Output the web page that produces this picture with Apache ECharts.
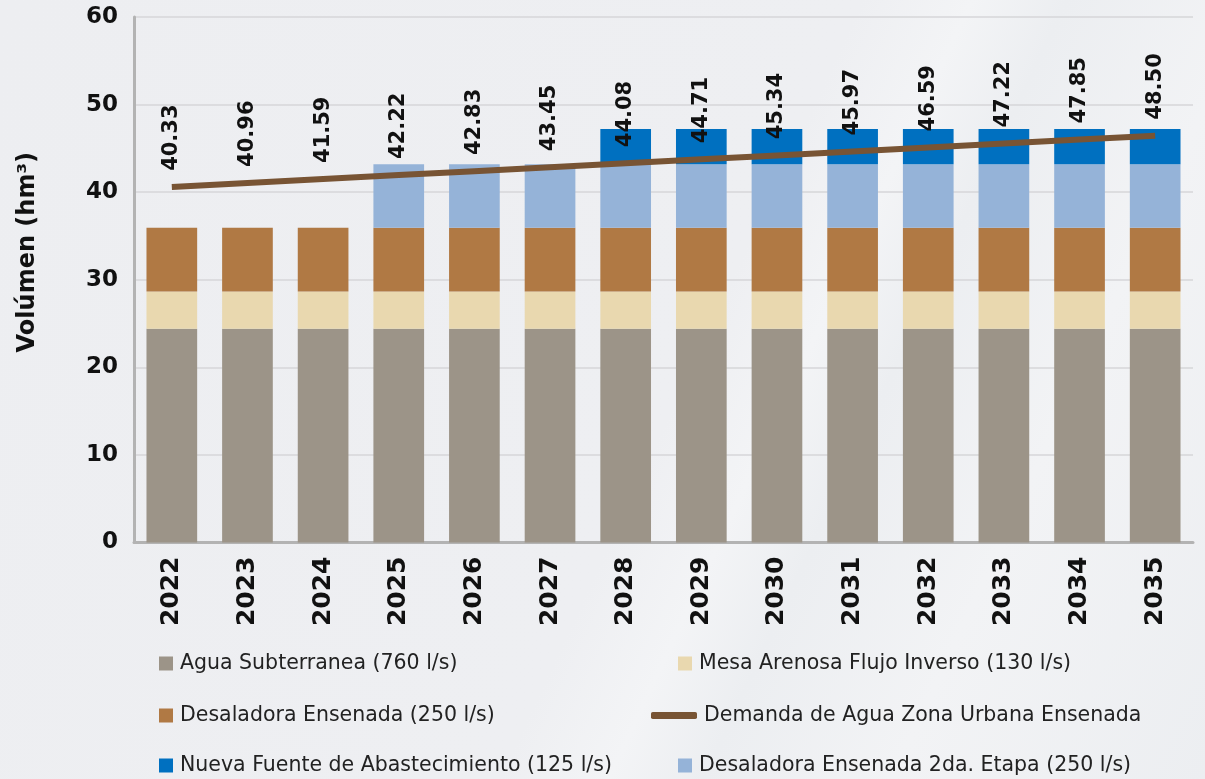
<!DOCTYPE html>
<html><head><meta charset="utf-8">
<script src="https://cdn.jsdelivr.net/npm/echarts@6/dist/echarts.min.js"></script>
<style>
html,body{margin:0;padding:0;width:1205px;height:779px;overflow:hidden;
background:linear-gradient(115deg,#edeef1 0%,#eeeff2 55%,#f3f4f6 62%,#eceef1 68%,#f2f3f5 80%,#eceef1 100%);}
#c{width:1205px;height:779px;}
</style></head><body><div id="c"></div>
<script>
const years = ['2022','2023','2024','2025','2026','2027','2028','2029','2030','2031','2032','2033','2034','2035'];
const aguaSubterranea = [24.4,24.4,24.4,24.4,24.4,24.4,24.4,24.4,24.4,24.4,24.4,24.4,24.4,24.4];
const mesaArenosa = [4.25,4.25,4.25,4.25,4.25,4.25,4.25,4.25,4.25,4.25,4.25,4.25,4.25,4.25];
const desaladora = [7.3,7.3,7.3,7.3,7.3,7.3,7.3,7.3,7.3,7.3,7.3,7.3,7.3,7.3];
const desaladora2 = [0,0,0,7.25,7.25,7.25,7.25,7.25,7.25,7.25,7.25,7.25,7.25,7.25];
const nuevaFuente = [0,0,0,0,0,0,4.0,4.0,4.0,4.0,4.0,4.0,4.0,4.0];
const demandaLinea = [40.6,41.05,41.5,41.95,42.4,42.85,43.3,43.75,44.2,44.65,45.1,45.55,46.0,46.45];
const demandaEtiquetas = ['40.33','40.96','41.59','42.22','42.83','43.45','44.08','44.71','45.34','45.97','46.59','47.22','47.85','48.50'];
const yTicks = {min:0, max:60, interval:10};

const names = {
  agua:'Agua Subterranea (760 l/s)',
  mesa:'Mesa Arenosa Flujo Inverso (130 l/s)',
  desal:'Desaladora Ensenada (250 l/s)',
  dem:'Demanda de Agua Zona Urbana Ensenada',
  nueva:'Nueva Fuente de Abastecimiento (125 l/s)',
  desal2:'Desaladora Ensenada 2da. Etapa (250 l/s)'
};
const colors = {agua:'#9c9488', mesa:'#e9d8af', desal:'#b07944', desal2:'#95b3d8', nueva:'#0070c0', dem:'#785434'};
const FONT = '"DejaVu Sans", sans-serif';

function bar(key, data){
  return {name:names[key], type:'bar', stack:'s', data:data, barWidth:'67%',
    itemStyle:{color:colors[key]}, emphasis:{disabled:true}};
}
function leg(key, left, top, icon, w, h){
  return {data:[{name:names[key], icon:icon}], left:left, top:top, padding:0,
    itemWidth:w, itemHeight:h, itemGap:10, selectedMode:false,
    textStyle:{fontFamily:FONT, fontSize:20.5, color:'#222', padding:[0,0,0,2]}};
}
const chart = echarts.init(document.getElementById('c'), null, {renderer:'canvas'});
chart.setOption({
  animation:false,
  backgroundColor:'transparent',
  grid:{left:134, right:12, top:17, bottom:236.5, containLabel:false},
  xAxis:{type:'category', data:years,
    axisLine:{lineStyle:{color:'#b3b3b3', width:3}}, axisTick:{show:false},
    axisLabel:{rotate:90, margin:14, fontFamily:FONT, fontWeight:'bold', fontSize:25, color:'#111'}},
  yAxis:{type:'value', min:yTicks.min, max:yTicks.max, interval:yTicks.interval,
    name:'Volúmen (hm³)', nameLocation:'middle', nameGap:94,
    nameTextStyle:{fontFamily:FONT, fontWeight:'bold', fontSize:24, color:'#111', padding:[0,0,0,55]},
    axisLine:{show:true, lineStyle:{color:'#b3b3b3', width:3}},
    axisLabel:{margin:16, fontFamily:FONT, fontWeight:'bold', fontSize:23, color:'#111'},
    splitLine:{lineStyle:{color:'#d6d6d8', width:1.5}}},
  legend:[
    leg('agua',159,653,'rect',14,14),
    leg('mesa',678,653,'rect',14,14),
    leg('desal',159,705,'rect',14,14),
    leg('dem',651,705,'roundRect',46,7),
    leg('nueva',159,755,'rect',14,14),
    leg('desal2',678,755,'rect',14,14)
  ],
  series:[
    bar('agua', aguaSubterranea),
    bar('mesa', mesaArenosa),
    bar('desal', desaladora),
    bar('desal2', desaladora2),
    bar('nueva', nuevaFuente),
    {name:names.dem, type:'line', data:demandaLinea, symbol:'circle', symbolSize:0.1, showSymbol:true, showAllSymbol:true, z:5,
     lineStyle:{color:colors.dem, width:6}, itemStyle:{color:colors.dem},
     emphasis:{disabled:true},
     label:{show:true, position:'top', rotate:90, align:'left', verticalAlign:'middle', distance:16,
       fontFamily:FONT, fontWeight:'bold', fontSize:21, color:'#111',
       formatter:function(p){return demandaEtiquetas[p.dataIndex];}}}
  ]
});
</script></body></html>
